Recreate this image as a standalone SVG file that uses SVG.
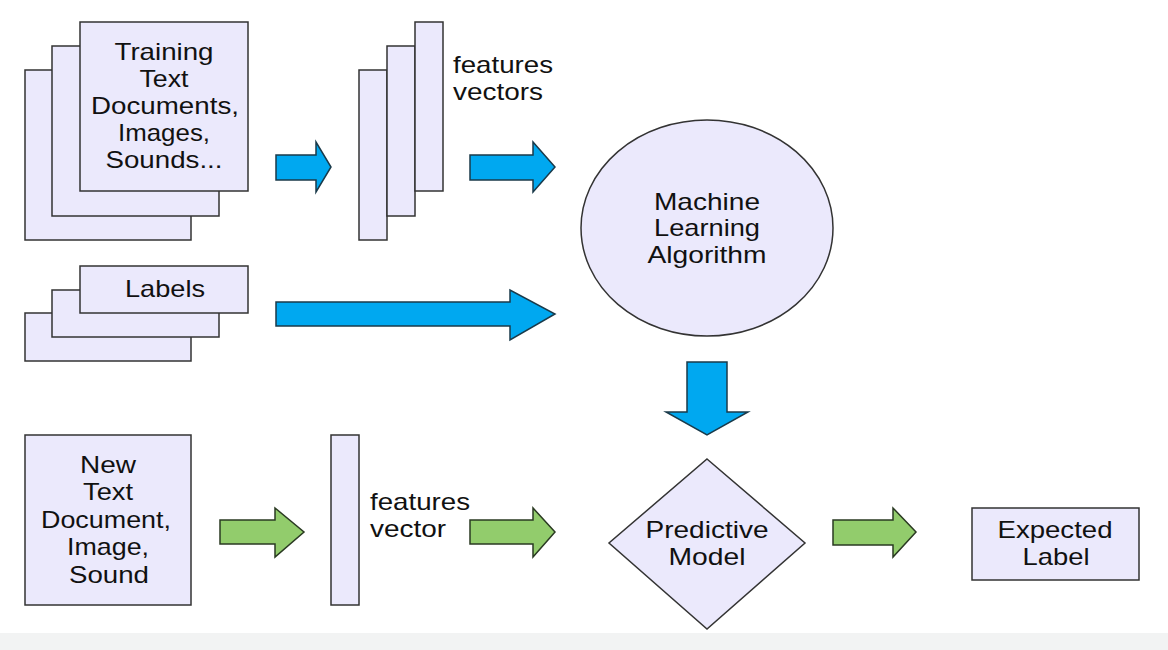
<svg xmlns="http://www.w3.org/2000/svg" width="1168" height="650" viewBox="0 0 1168 650">
<style>
.box{fill:#ebe9fc;stroke:#333;stroke-width:1.5}
.t{font-family:"Liberation Sans",Arial,sans-serif;font-size:24px;fill:#111;text-anchor:middle}
.tl{font-family:"Liberation Sans",Arial,sans-serif;font-size:24px;fill:#111}
.blue{fill:#00a8f0;stroke:#1a3a4a;stroke-width:1.5}
.green{fill:#92cc6c;stroke:#2a3a22;stroke-width:1.5}
</style>
<rect x="0" y="0" width="1168" height="650" fill="#fff"/>
<rect x="0" y="633" width="1168" height="17" fill="#f2f3f3"/>
<g id="training">
<rect class="box" x="25" y="70" width="166" height="170"/>
<rect class="box" x="52" y="46" width="167" height="170"/>
<rect class="box" x="80" y="22" width="168" height="169"/>
<text class="t" x="164" y="60" textLength="99" lengthAdjust="spacingAndGlyphs">Training</text>
<text class="t" x="164" y="87" textLength="49" lengthAdjust="spacingAndGlyphs">Text</text>
<text class="t" x="165" y="114" textLength="148" lengthAdjust="spacingAndGlyphs">Documents,</text>
<text class="t" x="164" y="141" textLength="92" lengthAdjust="spacingAndGlyphs">Images,</text>
<text class="t" x="164" y="168" textLength="117" lengthAdjust="spacingAndGlyphs">Sounds...</text>
</g>
<g id="feature-vectors">
<rect class="box" x="359" y="70" width="28" height="170"/>
<rect class="box" x="387" y="46" width="28" height="170"/>
<rect class="box" x="415" y="22" width="28" height="169"/>
<text class="tl" x="453" y="73" textLength="100" lengthAdjust="spacingAndGlyphs">features</text>
<text class="tl" x="453" y="100" textLength="90" lengthAdjust="spacingAndGlyphs">vectors</text>
</g>
<g id="ml-algorithm">
<ellipse class="box" cx="707" cy="228" rx="126" ry="108"/>
<text class="t" x="707" y="210" textLength="106" lengthAdjust="spacingAndGlyphs">Machine</text>
<text class="t" x="707" y="236" textLength="106" lengthAdjust="spacingAndGlyphs">Learning</text>
<text class="t" x="707" y="263" textLength="119" lengthAdjust="spacingAndGlyphs">Algorithm</text>
</g>
<g id="labels">
<rect class="box" x="25" y="313" width="166" height="48"/>
<rect class="box" x="52" y="290" width="167" height="47"/>
<rect class="box" x="80" y="266" width="168" height="47"/>
<text class="t" x="165" y="297" textLength="80" lengthAdjust="spacingAndGlyphs">Labels</text>
</g>
<g id="new-document">
<rect class="box" x="25" y="435" width="166" height="170"/>
<text class="t" x="108" y="473" textLength="56" lengthAdjust="spacingAndGlyphs">New</text>
<text class="t" x="108" y="500" textLength="50" lengthAdjust="spacingAndGlyphs">Text</text>
<text class="t" x="106" y="528" textLength="130" lengthAdjust="spacingAndGlyphs">Document,</text>
<text class="t" x="108" y="555" textLength="82" lengthAdjust="spacingAndGlyphs">Image,</text>
<text class="t" x="109" y="583" textLength="80" lengthAdjust="spacingAndGlyphs">Sound</text>
</g>
<g id="feature-vector">
<rect class="box" x="331" y="435" width="28" height="170"/>
<text class="tl" x="370" y="510" textLength="100" lengthAdjust="spacingAndGlyphs">features</text>
<text class="tl" x="370" y="537" textLength="76" lengthAdjust="spacingAndGlyphs">vector</text>
</g>
<g id="predictive-model">
<polygon class="box" points="707,459 805,543 707,629 609,543"/>
<text class="t" x="707" y="538" textLength="123" lengthAdjust="spacingAndGlyphs">Predictive</text>
<text class="t" x="707" y="565" textLength="77" lengthAdjust="spacingAndGlyphs">Model</text>
</g>
<g id="expected-label">
<rect class="box" x="972" y="508" width="167" height="72"/>
<text class="t" x="1055" y="538" textLength="115" lengthAdjust="spacingAndGlyphs">Expected</text>
<text class="t" x="1056" y="565" textLength="67" lengthAdjust="spacingAndGlyphs">Label</text>
</g>
<g id="connectors">
<polygon class="blue" points="276,155 316,155 316,142 331,167 316,192 316,180 276,180"/>
<polygon class="blue" points="470,155 533,155 533,142 555,167 533,192 533,180 470,180"/>
<polygon class="blue" points="276,302 510,302 510,290 555,314 510,340 510,326 276,326"/>
<polygon class="blue" points="687,362 727,362 727,412 748,412 707,435 666,412 687,412"/>
<polygon class="green" points="220,520 275,520 275,508 304,532 275,557 275,544 220,544"/>
<polygon class="green" points="470,520 533,520 533,508 555,532 533,557 533,544 470,544"/>
<polygon class="green" points="833,520 893,520 893,508 916,532 893,557 893,545 833,545"/>
</g>
</svg>
